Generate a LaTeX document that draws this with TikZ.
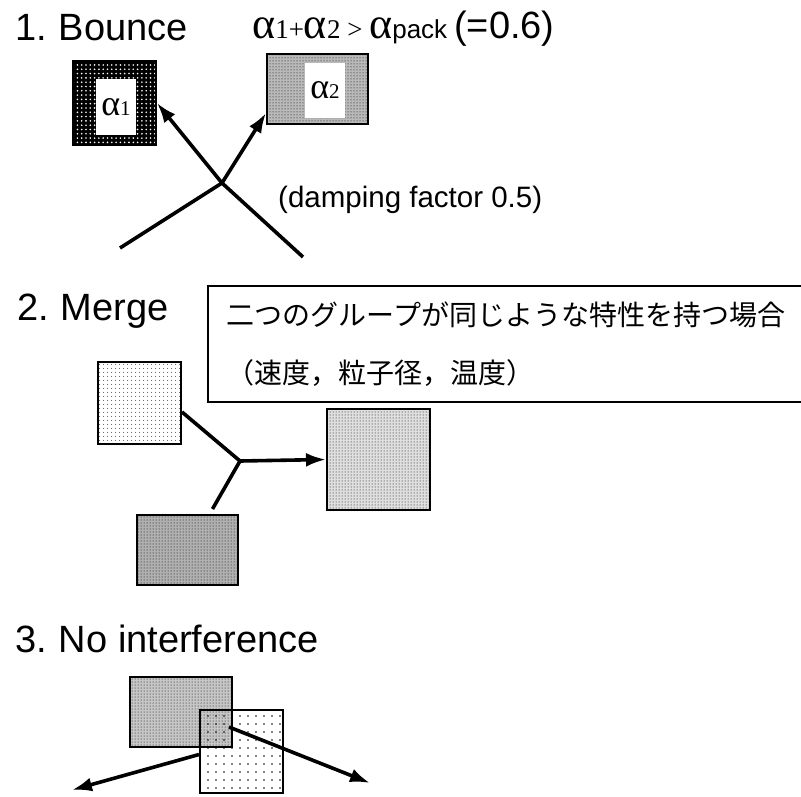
\documentclass[tikz,border=0pt]{standalone}
\usepackage{fontspec}
\setmainfont{Liberation Sans}
\newfontfamily\tmsfont{Liberation Serif}
\newfontfamily\jpfont{Noto Sans CJK JP}
\usetikzlibrary{arrows.meta,patterns.meta}

\newcommand{\galpha}[1]{{\tmsfont\fontsize{#1}{#1}\selectfont α}}
\newcommand{\gsub}[1]{{\tmsfont\fontsize{27}{27}\selectfont #1}}

\begin{document}
\begin{tikzpicture}[
    x=1pt, y=-1pt,
    box/.style={draw, line width=2pt, inner sep=0pt},
    darkdots/.style={box, preaction={fill=black}, pattern={Dots[distance=4.3pt,radius=0.9pt]}, pattern color=white},
    middots/.style={box, preaction={fill=gray!#1}, pattern={Dots[distance=3pt,radius=0.5pt]}, pattern color=black},
    lightdots/.style={box, preaction={fill=white}, pattern={Dots[distance=4pt,radius=0.6pt]}, pattern color=black},
    sparsedots/.style={box, pattern={Dots[distance=8pt,radius=0.8pt]}, pattern color=black},
    heading/.style={anchor=base west, inner sep=0pt, font=\fontsize{38}{38}\selectfont},
    arrow/.style={-{Latex[length=20pt,width=14pt]}, line width=3.6pt},
    track/.style={line width=3.6pt}
]
\useasboundingbox (0,0) rectangle (801,796);

% 1. Bounce
\node[heading] (bounce) at (15,40) {1.\hspace{-2pt} Bounce};
\node[anchor=base west, inner sep=0pt] (cond) at (252,38) {%
    \galpha{44}\gsub{1+}\galpha{44}\gsub{2 > }\galpha{44}{\fontsize{26}{26}\selectfont pack}\hspace{7pt}%
    {\fontsize{38}{38}\selectfont (=0.6)}};

\node[darkdots, minimum width=83, minimum height=84] (a1) at (114.5,103) {};
\node[fill=white, minimum width=40, minimum height=56, inner sep=0pt] (a1in) at (116,107) {\galpha{36}{\tmsfont\fontsize{21}{21}\selectfont 1}};
\node[middots=55, minimum width=101, minimum height=70] (a2) at (317.5,89) {};
\node[fill=white, minimum width=40, minimum height=55, inner sep=0pt] (a2in) at (325,90.5) {\galpha{36}{\tmsfont\fontsize{21}{21}\selectfont 2}};

\coordinate (in1) at (120,248);
\coordinate (in2) at (303,257);
\coordinate (hit) at (222,183);
\draw[arrow] (in1) -- (hit) -- ([yshift=-24pt]a2.west);
\draw[arrow] (in2) -- (hit) -- (a1.east);

\node[anchor=base west, inner sep=0pt, font=\fontsize{29.5}{29.5}\selectfont] (damp) at (278,207) {(damping factor 0.5)};

% 2. Merge
\node[heading] (merge) at (17,320) {2.\hspace{-2pt} Merge};
\node[box, line width=1.5pt, anchor=north west, text width=600, inner xsep=19pt, minimum height=116, align=left,
      font=\jpfont\fontsize{28}{58}\selectfont] (same) at (207,285) {%
    二つのグループが同じような特性を持つ場合\\
    （速度，粒子径，温度）};

\node[lightdots, minimum width=83, minimum height=82] (lsq) at (139.5,403) {};
\node[middots=62, minimum width=101, minimum height=70] (bsq) at (187.5,550) {};
\node[middots=25, minimum width=103, minimum height=101] (rsq) at (378.5,459.5) {};

\coordinate (join) at (240,461);
\draw[track] ([yshift=-9pt]lsq.east) -- (join);
\draw[track] ([xshift=25pt,yshift=5pt]bsq.north) -- (join);
\draw[arrow] (join) -- (rsq.west);

% 3. No interference
\node[heading] (noint) at (15,652) {3.\hspace{-2pt} No interference};
\node[middots=45, minimum width=102, minimum height=70] (nt) at (181,712) {};
\node[sparsedots, minimum width=83, minimum height=83] (nl) at (241.5,751.5) {};

\coordinate (out1) at (72,790);
\coordinate (out2) at (370,783);
\draw[arrow] ([yshift=-3pt]nl.west) -- (out1);
\draw[arrow] ([xshift=-4pt,yshift=-15pt]nt.east) -- (out2);
\end{tikzpicture}
\end{document}
